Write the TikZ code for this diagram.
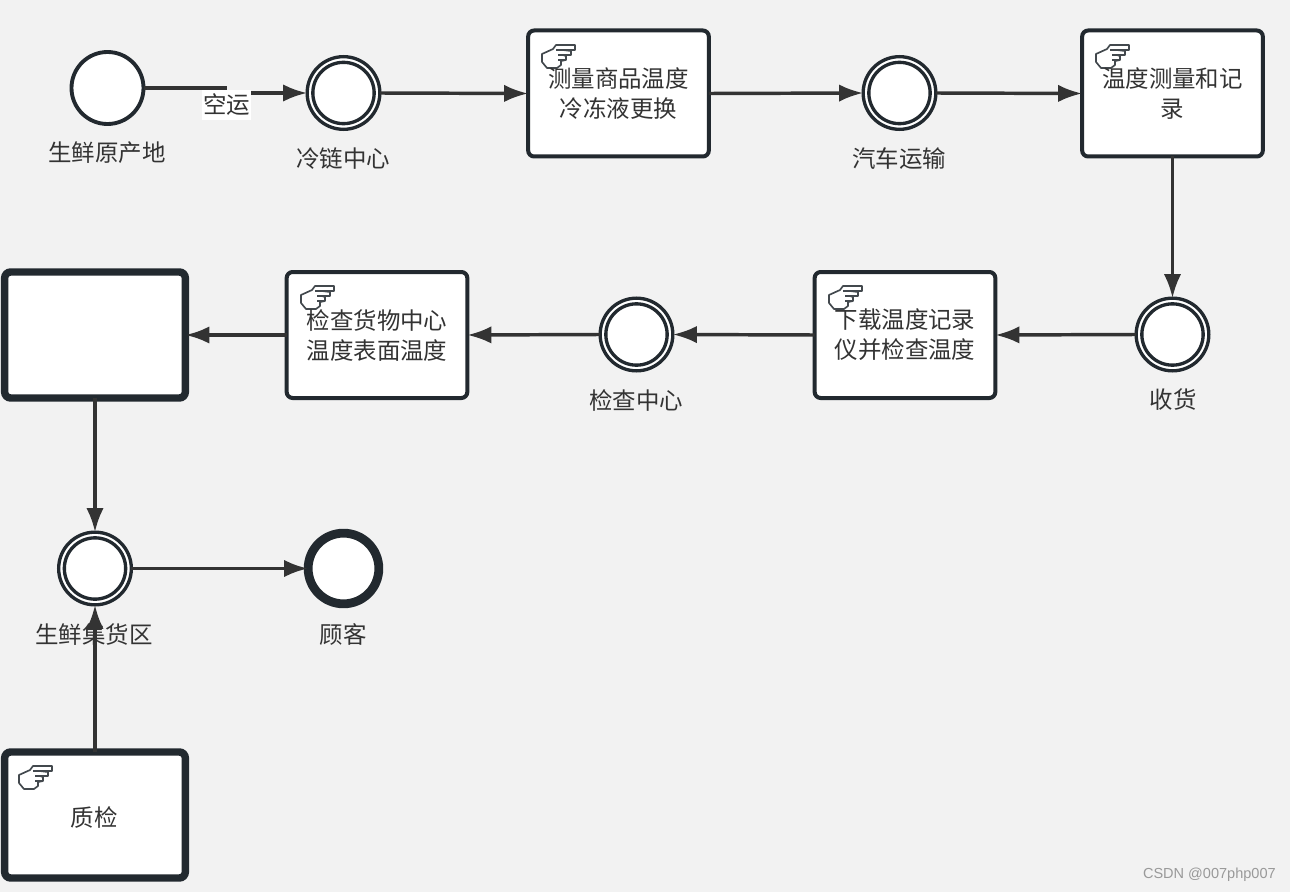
\documentclass[tikz,border=0pt]{standalone}
\usepackage{fontspec}
\setmainfont{Noto Sans CJK SC}
\setsansfont{Liberation Sans}
\usetikzlibrary{arrows.meta}
\definecolor{bgc}{HTML}{F2F2F2}
\definecolor{ln}{HTML}{22292F}
\definecolor{tx}{HTML}{333333}
\definecolor{ar}{HTML}{333333}
\newcommand{\handicon}[2]{%
\begin{scope}[shift={(#1,#2)}]
\draw[ln!85,line width=1.25pt,fill=white,line join=round]
 (0,9) -- (11,4) -- (14,0) -- (33,0) -- (33,5) -- (21,5) -- (29,6) -- (29,10) -- (21,10) -- (24,11) -- (24,15) -- (19,16) -- (19,20) -- (15,23) -- (5,23) -- (0,17) -- cycle;
\draw[ln!85,line width=1pt] (14,5)--(21,5) (16,10)--(21,10) (16,15)--(24,15);
\end{scope}}
\tikzset{
  x=0.75pt,y=-0.75pt,
  flow/.style={draw=ar,line width=2.6pt,-{Latex[length=18pt,width=13pt]}},
  lbl/.style={text=tx,font=\fontsize{17.6}{22.5}\selectfont,inner sep=0pt,align=center},
  ev/.style={circle,draw=ln,fill=white,inner sep=0pt,outer sep=0pt},
  startev/.style={ev,line width=2.9pt,minimum size=54pt},
  endev/.style={ev,line width=6.6pt,minimum size=53pt},
  task/.style={draw=ln,fill=white,rounded corners=4.5pt,inner sep=0pt,outer sep=0pt,line width=3pt,minimum width=135.5pt,minimum height=94.5pt},
  bigtask/.style={task,line width=5.6pt},
  airlbl/.style={lbl,fill=white,minimum width=36.8pt,minimum height=22.5pt},
}
\newcommand{\midev}[3]{%
\node[ev,line width=2.5pt,minimum size=54.5pt] (#1) at (#2,#3) {};
\node[ev,line width=2.5pt,minimum size=46pt] (#1i) at (#2,#3) {};}
\begin{document}
\begin{tikzpicture}
\path[use as bounding box,fill=bgc] (0,0) rectangle (1290,892);
% nodes
\node[startev] (s) at (107.5,88) {};
\midev{cc}{343.5}{93}
\node[task] (t1) at (618.5,93.5) {};
\midev{car}{899.5}{93}
\node[task] (t2) at (1172.5,93.5) {};
\midev{rc}{1172.5}{334.5}
\node[task] (t3) at (905,335) {};
\midev{chk}{636.5}{334.5}
\node[task] (t4) at (377,335) {};
\node[bigtask] (t5) at (95,335) {};
\midev{gather}{95}{568.5}
\node[endev] (end) at (343.5,568.5) {};
\node[bigtask] (qc) at (95,815) {};
% connectors
\coordinate (skink) at (227,88);
\coordinate (sk2) at (227,93);
\draw[draw=ar,line width=2.6pt] (s.east) -- (skink);
\draw[flow] (sk2) -- (cc.west);
\draw[flow] (cc.east) -- (t1.west);
\draw[flow] (t1.east) -- (car.west);
\draw[flow] (car.east) -- (t2.west);
\draw[flow] (t2.south) -- (rc.north);
\draw[flow] (rc.west) -- (t3.east);
\draw[flow] (t3.west) -- (chk.east);
\draw[flow] (chk.west) -- (t4.east);
\draw[flow] (t4.west) -- (t5.east);
\draw[flow] (t5.south) -- (gather.north);
\draw[flow] (gather.east) -- (end.west);
\draw[flow] (qc.north) -- (gather.south);
% labels
\node[airlbl] (air) at (226.5,105) {空运};
\node[lbl] (l1) at (107,152.5) {生鲜原产地};
\node[lbl] (l2) at (343,158.5) {冷链中心};
\node[lbl] (l3) at (899,158.5) {汽车运输};
\node[lbl] (l4) at (1173,400) {收货};
\node[lbl] (l5) at (636,400) {检查中心};
\node[lbl] (l6) at (94,634.5) {生鲜集货区};
\node[lbl] (l7) at (343,634.5) {顾客};
\handicon{542}{45}
\handicon{1096}{45}
\handicon{829}{286}
\handicon{301}{286}
\handicon{19}{766}
\node[lbl] (a1) at (618.5,94) {测量商品温度\\冷冻液更换};
\node[lbl] (a2) at (1172.5,94) {温度测量和记\\录};
\node[lbl] (a3) at (905,335) {下载温度记录\\仪并检查温度};
\node[lbl] (a4) at (377,335) {检查货物中心\\温度表面温度};
\node[lbl] (a5) at (94,817) {质检};
\node[text=black!40,font=\sffamily\fontsize{10.9}{12}\selectfont,inner sep=0pt,anchor=east] (wm) at (1276,875) {CSDN @007php007};
\end{tikzpicture}
\end{document}
